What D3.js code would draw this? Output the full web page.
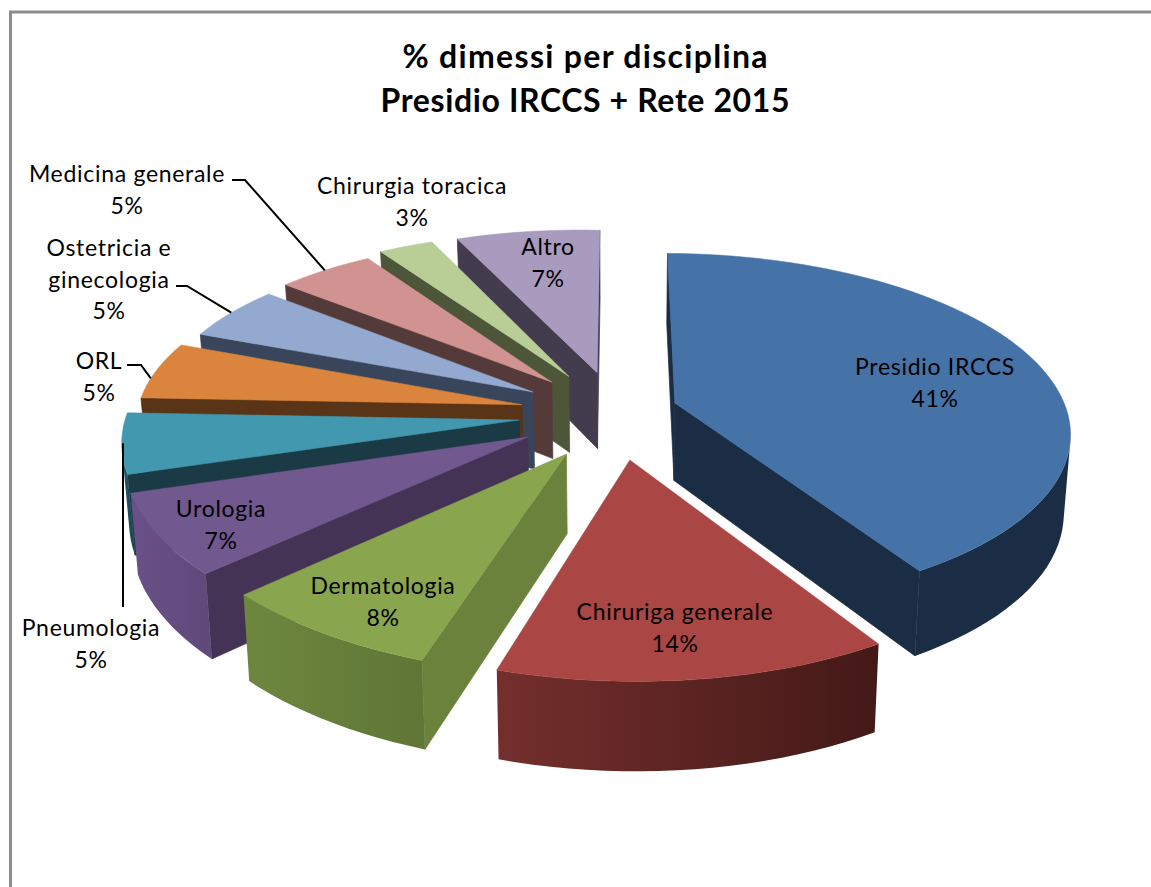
<!DOCTYPE html>
<html>
<head>
<meta charset="utf-8">
<script src="https://cdn.jsdelivr.net/npm/d3@7"></script>
<style>
body { margin: 0; background: #fff; }
text { font-family: Lato, "Open Sans", sans-serif; fill: #000; text-anchor: middle; }
.label { font-size: 23px; letter-spacing: 0.7px; }
.title { font-size: 32px; font-weight: bold; }
</style>
</head>
<body>
<script>
//chart data; the labels show them rounded
var categories = ["Presidio IRCCS", "Chiruriga generale", "Dermatologia", "Urologia", "Pneumologia",
    "ORL", "Ostetricia e ginecologia", "Medicina generale", "Chirurgia toracica", "Altro"];
var shares = [41.1, 13.5, 7.7, 7.0, 5.4, 5.4, 5.3, 4.9, 2.7, 7.0];
var titleLines = ["% dimessi per disciplina", "Presidio IRCCS + Rete 2015"];
var titleWidths = [365, 409];

//slice colours: top face, cut face, outer wall at start angle, outer wall at end angle
var topColors = ["#4572a7", "#aa4643", "#89a54e", "#71588f", "#4198af", "#db843d", "#93a9cf", "#d19392", "#b9cd96", "#a99bbd"];
var cutColors = ["#1b2d44", "#441a17", "#6b823c", "#443355", "#1a3a46", "#5a3416", "#39455a", "#553a3a", "#4d5638", "#423c4e"];
var wallStart = ["#1b2d44", "#431917", "#5f7636", "#5f4a7b", "#1c4a58", "#5a3416", "#39455a", "#553a3a", "#4d5638", "#423c4e"];
var wallEnd = ["#1b2d44", "#742f2d", "#6e873f", "#6a5087", "#1f5666", "#5a3416", "#39455a", "#553a3a", "#4d5638", "#423c4e"];

//how far each slice is pulled out of the pie, in pie radii on the ground plane
var explodeX = [0.146, 0.029, -0.127, -0.225, -0.25, -0.246, -0.22, -0.173, -0.129, -0.055];
var explodeY = [-0.08, 0.236, 0.204, 0.112, 0.017, -0.07, -0.145, -0.204, -0.239, -0.262];
var sliceRadius = [1, 0.99, 1, 1, 1, 0.985, 0.97, 0.98, 1, 1];
var sliceSkew = [0.01, 0.01, 0.06, 0.06, 0.06, 0.06, 0.06, 0.06, 0.06, 0.06];

//label placement: centre x and first baseline, one row per slice
var labelX = [935, 675, 383, 221, 91, 99, 109, 127, 412, 548];
var labelY = [375, 620, 594, 517, 636, 369, 256, 182, 194, 255];
var labelRows = [["Presidio IRCCS"], ["Chiruriga generale"], ["Dermatologia"], ["Urologia"],
    ["Pneumologia"], ["ORL"], ["Ostetricia e", "ginecologia"], ["Medicina generale"],
    ["Chirurgia toracica"], ["Altro"]];

//leader lines: slice index, label end, elbow, where on the outer arc they land
var leaders = [
    {slice: 4, from: [123, 607], elbow: [123, 607], at: 0.5},
    {slice: 5, from: [127, 365], elbow: [141, 365], at: 0.35},
    {slice: 6, from: [176, 286], elbow: [187, 286], at: 0.5},
    {slice: 7, from: [232, 180], elbow: [245, 180], at: 0.5}
];

var width = 1151, height = 887;

//perspective set up
var cx = 618, cy = 417, radiusX = 394, radiusY = 176,
    persp = 0.15, thickness = 78, converge = 0.015;

var xScale = d3.scaleLinear().domain([-1, 1]).range([cx - radiusX, cx + radiusX]);
var yScale = d3.scaleLinear().domain([-1, 1]).range([cy - radiusY, cy + radiusY]);

//ground plane point to screen, low = true for the underside of the pie
function project(X, Y, low){
    var w = 1 - persp * Y;
    var px = xScale(X / w), py = yScale(Y / w);
    if (low){
        px = cx + (px - cx) * (1 - converge);
        py = py + thickness / Math.pow(w, 0.7);
    }
    return [px, py];
}

//point on the rim of slice i at pie angle a, or its tip when r = 0
function rimPoint(i, a, r, low){
    var rr = r * sliceRadius[i];
    return project(explodeX[i] + rr * Math.sin(a),
        explodeY[i] + rr * (-Math.cos(a) + sliceSkew[i] * Math.sin(a)), low);
}

function arcAngles(d){
    var steps = Math.max(4, Math.ceil((d.endAngle - d.startAngle) / 0.04));
    return d3.range(steps + 1).map(function(s){
        return d.startAngle + (d.endAngle - d.startAngle) * s / steps;
    });
}

//signed area, used to drop the walls facing away from the viewer
function facesViewer(p){
    return d3.polygonArea(p) > 0;
}

var svg = d3.select("body").append("svg")
    .attr("width", width)
    .attr("height", height);

var defs = svg.append("defs");

//chart frame, only the left and top edges are in the picture
svg.append("path")
    .attr("d", "M10.5," + height + "V12H" + width)
    .attr("fill", "none")
    .attr("stroke", "#8c8c8c")
    .attr("stroke-width", 3);

var line = d3.line();
var pie = d3.pie().sort(null)(shares);

//paint back to front
var order = d3.range(pie.length).sort(function(a, b){
    var ma = (pie[a].startAngle + pie[a].endAngle) / 2,
        mb = (pie[b].startAngle + pie[b].endAngle) / 2;
    return d3.ascending(explodeY[a] - Math.cos(ma) * 0.6, explodeY[b] - Math.cos(mb) * 0.6);
});

order.forEach(function(i){
    var d = pie[i];
    var g = svg.append("g").attr("class", "slice");
    var angles = arcAngles(d);

    function face(p, color){
        if (!facesViewer(p)) return;
        g.append("path")
            .attr("d", line(p) + "Z")
            .attr("fill", color)
            .attr("stroke", color)
            .attr("stroke-width", 0.7);
    }

    //the two cut faces
    face([rimPoint(i, d.startAngle, 0), rimPoint(i, d.startAngle, 1), rimPoint(i, d.startAngle, 1, true), rimPoint(i, d.startAngle, 0, true)], cutColors[i]);
    face([rimPoint(i, d.endAngle, 1), rimPoint(i, d.endAngle, 0), rimPoint(i, d.endAngle, 0, true), rimPoint(i, d.endAngle, 1, true)], cutColors[i]);

    //outer wall: the part of the rim that faces the viewer, shaded along x
    var seen = d3.pairs(angles).filter(function(pair){
        return facesViewer([rimPoint(i, pair[0], 1), rimPoint(i, pair[1], 1), rimPoint(i, pair[1], 1, true), rimPoint(i, pair[0], 1, true)]);
    });
    if (seen.length){
        var run = angles.filter(function(a){
            return a >= seen[0][0] && a <= seen[seen.length - 1][1];
        });
        var grad = defs.append("linearGradient")
            .attr("id", "wall" + i)
            .attr("gradientUnits", "userSpaceOnUse")
            .attr("x1", rimPoint(i, d.startAngle, 1)[0])
            .attr("x2", rimPoint(i, d.endAngle, 1)[0])
            .attr("y1", 0)
            .attr("y2", 0);
        grad.append("stop").attr("offset", 0).attr("stop-color", wallStart[i]);
        grad.append("stop").attr("offset", 1).attr("stop-color", wallEnd[i]);
        var wallOutline = run.map(function(a){ return rimPoint(i, a, 1); })
            .concat(run.slice().reverse().map(function(a){ return rimPoint(i, a, 1, true); }));
        g.append("path")
            .attr("d", line(wallOutline) + "Z")
            .attr("fill", "url(#wall" + i + ")");
    }

    //top face
    var outline = [rimPoint(i, d.startAngle, 0)].concat(angles.map(function(a){
        return rimPoint(i, a, 1);
    }));
    g.append("path")
        .attr("d", line(outline) + "Z")
        .attr("fill", topColors[i])
        .attr("stroke", topColors[i])
        .attr("stroke-width", 0.5);
});

//leader lines
leaders.forEach(function(l){
    var d = pie[l.slice];
    var end = rimPoint(l.slice, d.startAngle + (d.endAngle - d.startAngle) * l.at, 1);
    var pts = l.slice == 4 ? [l.from, [l.from[0], end[1]]] : [l.from, l.elbow, end];
    svg.append("path")
        .attr("d", line(pts))
        .attr("fill", "none")
        .attr("stroke", "#000")
        .attr("stroke-width", 2);
});

//labels
labelRows.forEach(function(rows, i){
    svg.append("text")
        .attr("class", "label")
        .selectAll("tspan")
        .data(rows.concat([Math.round(shares[i]) + "%"]))
        .enter()
        .append("tspan")
        .attr("x", labelX[i])
        .attr("y", function(r, n){ return labelY[i] + n * 31.5; })
        .text(function(r){ return r; });
});

//title
svg.selectAll(".title")
    .data(titleLines)
    .enter()
    .append("text")
    .attr("class", "title")
    .attr("x", 585)
    .attr("y", function(d, n){ return 68 + n * 44; })
    .attr("textLength", function(d, n){ return titleWidths[n]; })
    .text(function(d){ return d; });
</script>
</body>
</html>
